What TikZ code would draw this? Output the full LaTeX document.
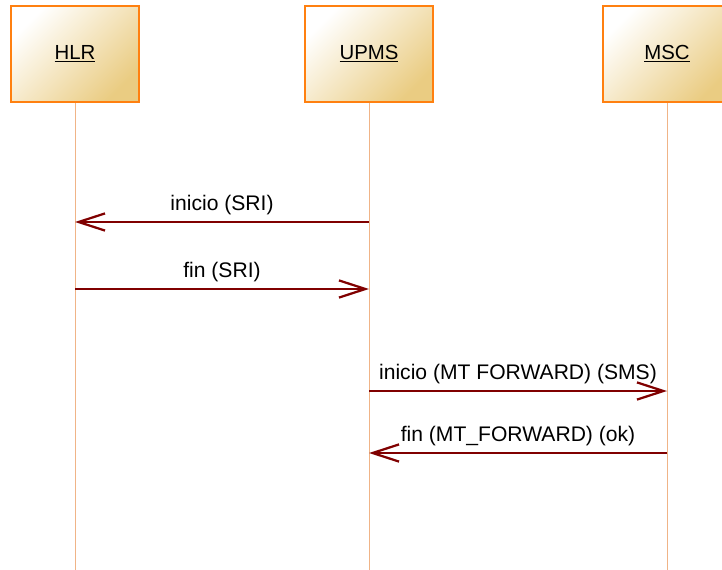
\documentclass[tikz,border=0pt]{standalone}
\usepackage{fontspec}
\setmainfont{Liberation Sans}
\usetikzlibrary{arrows.meta,positioning}
\definecolor{boxborder}{RGB}{255,128,16}
\definecolor{boxfill}{RGB}{234,204,130}
\definecolor{lifeline}{RGB}{240,180,135}
\definecolor{msgred}{RGB}{128,0,0}
\tikzset{%
	actor/.style    = {draw=boxborder, line width=1.4pt, rectangle, minimum width=3.2cm, minimum height=2.4cm,
		top color=white, bottom color=boxfill, shading angle=45, font=\fontsize{14.5}{17}\selectfont}, % Participant
	life/.style     = {draw=lifeline, line width=0.7pt}, % Lifeline
	msg/.style      = {draw=msgred, line width=1.6pt, -{Straight Barb[length=0.66cm, width=0.43cm]}}, % Message
	label/.style    = {above, inner sep=4pt, font=\fontsize{15}{18}\selectfont},
}

\begin{document}
\begin{tikzpicture}[x=0.025cm, y=-0.025cm]
	\useasboundingbox (0,0) rectangle (722,570);
	\clip (0,0) rectangle (722,570);
	% participants
	\node[actor] (HLR) at (75,54) {\underline{HLR}};
	\node[actor] (UPMS) at (369,54) {\underline{UPMS}};
	\node[actor] (MSC) at (667,54) {\underline{MSC}};
	% lifelines
	\coordinate (bottom) at (0,570);
	\draw[life] (HLR.south) -- (HLR |- bottom);
	\draw[life] (UPMS.south) -- (UPMS |- bottom);
	\draw[life] (MSC.south) -- (MSC |- bottom);
	% messages
	\coordinate (m1) at (0,222);
	\coordinate (m2) at (0,289);
	\coordinate (m3) at (0,391);
	\coordinate (m4) at (0,453);
	\draw[msg] (UPMS |- m1) -- node[label] {inicio (SRI)} (HLR |- m1);
	\draw[msg] (HLR |- m2) -- node[label] {fin (SRI)} (UPMS |- m2);
	\draw[msg] (UPMS |- m3) -- node[label] {inicio (MT FORWARD) (SMS)} (MSC |- m3);
	\draw[msg] (MSC |- m4) -- node[label] {fin (MT\_FORWARD) (ok)} (UPMS |- m4);
\end{tikzpicture}
\end{document}
